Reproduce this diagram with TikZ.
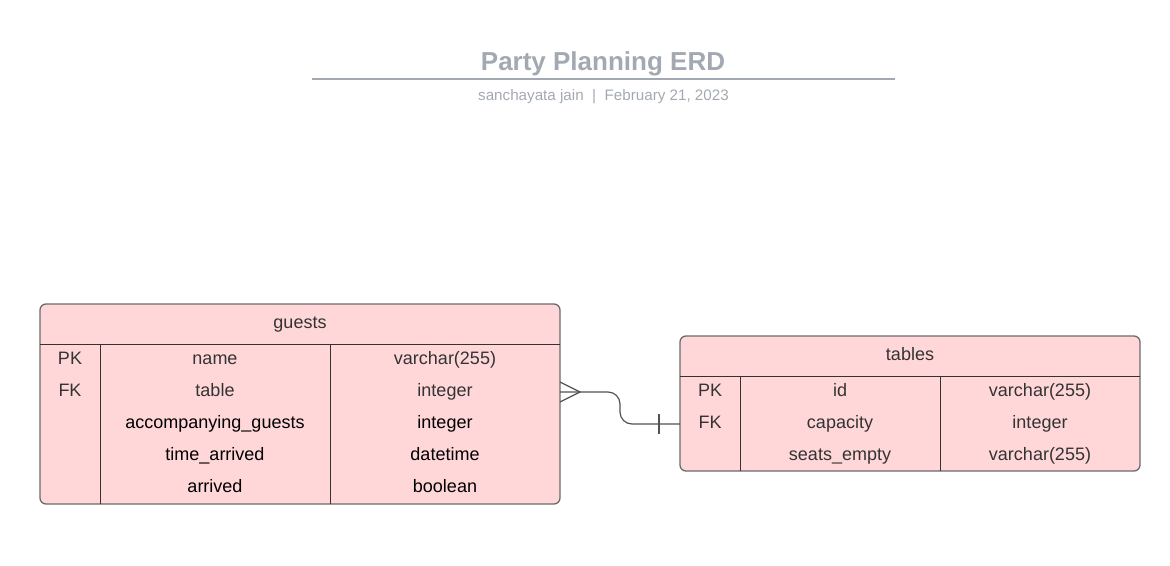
\documentclass[tikz,border=0pt]{standalone}
\usepackage{fontspec}
\setmainfont{Liberation Sans}
\definecolor{rowfill}{HTML}{FFD7D9}
\definecolor{boxline}{HTML}{6B6B6B}
\definecolor{rowline}{HTML}{333333}
\definecolor{celltext}{HTML}{333333}
\definecolor{titlegray}{HTML}{A3A9B3}
\begin{document}
\begin{tikzpicture}[x=1pt,y=-1pt,inner sep=0pt,outer sep=0pt,
entity/.style={draw=boxline,fill=rowfill,rectangle,rounded corners=6pt,line width=1.3pt,anchor=north west},
divider/.style={draw=rowline,line width=1pt},
cell/.style={font=\fontsize{18}{20}\selectfont,text=celltext,anchor=base},
relation/.style={draw=rowline!85,line width=1.2pt}]
\useasboundingbox (0,0) rectangle (1170,565);
% title block
\node[font=\fontsize{26}{30}\bfseries,text=titlegray,anchor=base] (title) at (603,70) {Party Planning ERD};
\coordinate (rule-l) at (312,79);
\coordinate (rule-r) at (895,79);
\draw[titlegray,line width=1.3pt] (rule-l) -- (rule-r);
\node[font=\fontsize{15.2}{18}\selectfont,text=titlegray,anchor=base] (subtitle) at (603.5,100) {sanchayata jain~~|~~February 21, 2023};
% guests entity
\node[entity,minimum width=520pt,minimum height=200pt] (guests) at (40,304) {};
\node[cell] (guests-head) at (300,328) {guests};
\draw[divider] (40,344) -- (560,344);
\draw[divider] (100,344) -- (100,504);
\draw[divider] (330,344) -- (330,504);
\foreach \k/\n/\t/\c [count=\i from 0] in {PK/name/varchar(255)/celltext,FK/table/integer/celltext,
  /accompanying\_guests/integer/black,/time\_arrived/datetime/black,/arrived/boolean/black}
{
  \node[cell,text=\c] (g-key-\i) at (70,{364.3+32*\i}) {\k};
  \node[cell,text=\c] (g-name-\i) at (215,{364.3+32*\i}) {\n};
  \node[cell,text=\c] (g-type-\i) at (445,{364.3+32*\i}) {\t};
}
% tables entity
\node[entity,minimum width=460pt,minimum height=135pt] (tables) at (680,336) {};
\node[cell] (tables-head) at (910,360) {tables};
\draw[divider] (680,376) -- (1140,376);
\draw[divider] (740,376) -- (740,471);
\draw[divider] (940,376) -- (940,471);
\foreach \k/\n/\t [count=\i from 0] in {PK/id/varchar(255),FK/capacity/integer,/seats\_empty/varchar(255)}
{
  \node[cell] (t-key-\i) at (710,{396.3+32*\i}) {\k};
  \node[cell] (t-name-\i) at (840,{396.3+32*\i}) {\n};
  \node[cell] (t-type-\i) at (1040,{396.3+32*\i}) {\t};
}
% relation guests.table -> tables.id
\coordinate (g-fk) at (560,392);
\coordinate (t-fk) at (680,424);
\coordinate (crow) at (580,392);
\draw[relation,rounded corners=12pt] (g-fk) -- (620,392) -- (620,424) -- (t-fk);
\draw[relation] (560,382) -- (crow) -- (560,402);
\draw[relation] (659,414) -- (659,434);
\end{tikzpicture}
\end{document}
